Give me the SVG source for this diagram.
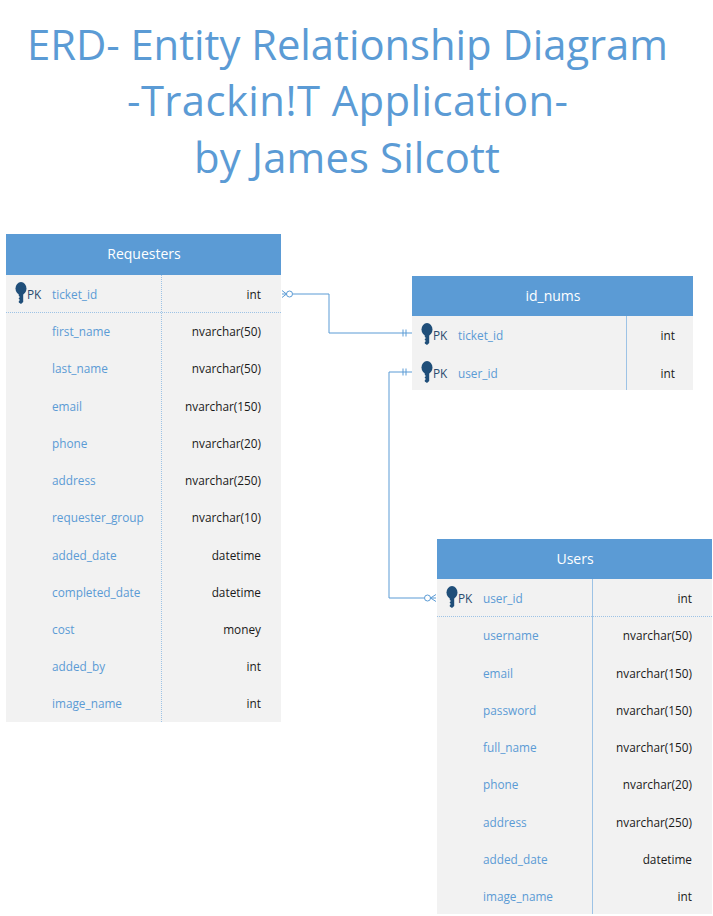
<svg xmlns="http://www.w3.org/2000/svg" xmlns:xlink="http://www.w3.org/1999/xlink" width="713" height="916" viewBox="0 0 713 916">
<style>
text{font-family:"Open Sans","Noto Sans","Liberation Sans",sans-serif}
.title{font-size:41.8px;fill:#5b9bd5;text-anchor:middle}
.hdr{fill:#5b9bd5}
.body{fill:#f2f2f2}
.htxt{font-size:14px;fill:#fff;text-anchor:middle}
.col{font-size:11.8px;fill:#5b9bd5}
.typ{font-size:11.8px;fill:#1a1a1a;text-anchor:end}
.pk{font-size:11.8px;fill:#2a4a6e}
.div{stroke:#9dc3e6;stroke-width:1;fill:none}
.dot{stroke:#9dc3e6;stroke-width:1;stroke-dasharray:1 1;fill:none}
.conn{stroke:#5b9bd5;stroke-width:1;fill:none}
.thin{stroke:#5b9bd5;stroke-width:1;fill:none}
.key{fill:#1f4e79}
</style>
<defs>
<g id="key"><ellipse cx="0" cy="-3.500" rx="5.500" ry="6.500" class="key"/><path d="M-2.200 0H2.200V10L0 12L-2.200 10.500V9L-1 8L-2.200 7V6L-1 5L-2.200 4Z" class="key"/></g>
</defs>
<g id="title">
<text class="title" x="347.500" y="60" textLength="641">ERD- Entity Relationship Diagram</text>
<text class="title" x="347.500" y="116" textLength="441">-Trackin!T Application-</text>
<text class="title" x="347" y="173" textLength="306">by James Silcott</text>
</g>
<g id="connectors">
<path class="conn" d="M293 294H329V333H399"/>
<path class="thin" d="M399 333H412M403 329.500V336.500M406 329.500V336.500"/>
<path class="conn" d="M399 372H389V598H424"/>
<path class="thin" d="M399 372H412M403 368.500V375.500M406 368.500V375.500"/>
<circle class="thin" cx="289.500" cy="294" r="3"/>
<path class="thin" d="M286.500 294L282 290.500M286.500 294L282 297.500M282 294H286.500"/>
<circle class="thin" cx="427.500" cy="598" r="3"/>
<path class="thin" d="M430.500 598L436 594.500M430.500 598L436 601.500M430.500 598H436"/>
</g>
<g id="requesters">
<rect class="body" x="6" y="275" width="275" height="447"/>
<rect class="hdr" x="6" y="234" width="275" height="41"/>
<text class="htxt" x="144" y="259">Requesters</text>
<path class="dot" d="M161.500 275V722"/>
<path class="dot" d="M6 312.500H281"/>
<use xlink:href="#key" href="#key" x="21" y="292"/>
<g class="rows" transform="translate(0 .5)">
<text class="pk" x="27" y="298">PK</text>
<text class="col" x="52" y="298">ticket_id</text><text class="typ" x="261" y="298">int</text>
<text class="col" x="52" y="335">first_name</text><text class="typ" x="261" y="335">nvarchar(50)</text>
<text class="col" x="52" y="372">last_name</text><text class="typ" x="261" y="372">nvarchar(50)</text>
<text class="col" x="52" y="410">email</text><text class="typ" x="261" y="410">nvarchar(150)</text>
<text class="col" x="52" y="447">phone</text><text class="typ" x="261" y="447">nvarchar(20)</text>
<text class="col" x="52" y="484">address</text><text class="typ" x="261" y="484">nvarchar(250)</text>
<text class="col" x="52" y="521">requester_group</text><text class="typ" x="261" y="521">nvarchar(10)</text>
<text class="col" x="52" y="559">added_date</text><text class="typ" x="261" y="559">datetime</text>
<text class="col" x="52" y="596">completed_date</text><text class="typ" x="261" y="596">datetime</text>
<text class="col" x="52" y="633">cost</text><text class="typ" x="261" y="633">money</text>
<text class="col" x="52" y="670">added_by</text><text class="typ" x="261" y="670">int</text>
<text class="col" x="52" y="707">image_name</text><text class="typ" x="261" y="707">int</text>
</g>
</g>
<g id="id_nums">
<rect class="body" x="412" y="316" width="281" height="74"/>
<rect class="hdr" x="412" y="276" width="281" height="40"/>
<text class="htxt" x="553" y="301">id_nums</text>
<path class="div" d="M626.500 316V390"/>
<use xlink:href="#key" href="#key" x="427" y="333"/>
<use xlink:href="#key" href="#key" x="427" y="371"/>
<g class="rows" transform="translate(0 .5)">
<text class="pk" x="433" y="339">PK</text>
<text class="col" x="458" y="339">ticket_id</text><text class="typ" x="675" y="339">int</text>
<text class="pk" x="433" y="377">PK</text>
<text class="col" x="458" y="377">user_id</text><text class="typ" x="675" y="377">int</text>
</g>
</g>
<g id="users">
<rect class="body" x="437" y="579" width="275" height="335"/>
<rect class="hdr" x="437" y="539" width="275" height="40"/>
<text class="htxt" x="575" y="564">Users</text>
<path class="div" d="M592.500 579V914"/>
<path class="dot" d="M437 616.500H712"/>
<use xlink:href="#key" href="#key" x="452" y="596"/>
<g class="rows" transform="translate(0 .5)">
<text class="pk" x="458" y="602">PK</text>
<text class="col" x="483" y="602">user_id</text><text class="typ" x="692" y="602">int</text>
<text class="col" x="483" y="639">username</text><text class="typ" x="692" y="639">nvarchar(50)</text>
<text class="col" x="483" y="677">email</text><text class="typ" x="692" y="677">nvarchar(150)</text>
<text class="col" x="483" y="714">password</text><text class="typ" x="692" y="714">nvarchar(150)</text>
<text class="col" x="483" y="751">full_name</text><text class="typ" x="692" y="751">nvarchar(150)</text>
<text class="col" x="483" y="788">phone</text><text class="typ" x="692" y="788">nvarchar(20)</text>
<text class="col" x="483" y="826">address</text><text class="typ" x="692" y="826">nvarchar(250)</text>
<text class="col" x="483" y="863">added_date</text><text class="typ" x="692" y="863">datetime</text>
<text class="col" x="483" y="900">image_name</text><text class="typ" x="692" y="900">int</text>
</g>
</g>
</svg>
